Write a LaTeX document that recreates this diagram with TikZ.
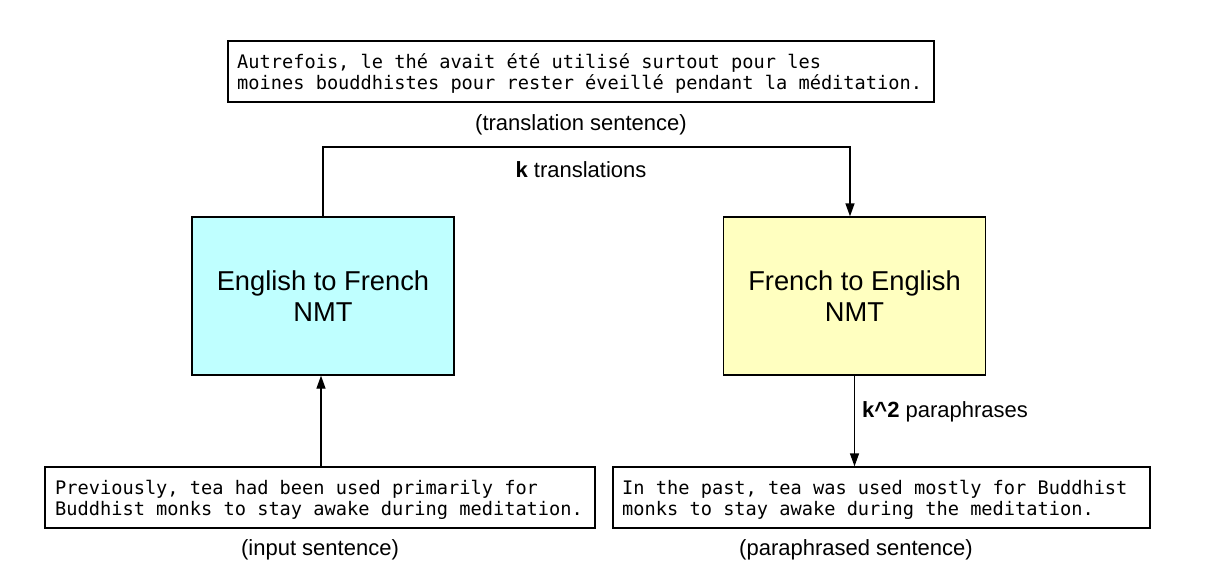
\documentclass[tikz,border=0pt]{standalone}
\usepackage{fontspec}
\setmainfont{Liberation Sans}
\newfontfamily\monofont{DejaVu Sans Mono}
\usetikzlibrary{arrows.meta}
\definecolor{cyanfill}{HTML}{BFFFFF}
\definecolor{yellowfill}{HTML}{FFFFC0}
\begin{document}
\begin{tikzpicture}[x=1pt,y=-1pt,
  sbox/.style={draw, line width=1.3pt, inner sep=0pt},
  mono/.style={font=\monofont\fontsize{18.65}{21}\selectfont, align=left, inner sep=0pt, anchor=west},
  nmt/.style={draw, line width=1.3pt, inner sep=0pt, minimum width=262pt, minimum height=158pt, align=center, font=\fontsize{27.3}{30.5}\selectfont},
  lbl/.style={font=\fontsize{22}{24}\selectfont, inner sep=0pt},
  arr/.style={-{Triangle[length=13pt,width=9pt]}, line width=1.3pt}]
\useasboundingbox (0,0) rectangle (1213,586);
\fill[white] (0,0) rectangle (1213,586);

% top box
\node[sbox, minimum width=706pt, minimum height=61pt] (top) at (581,71.5) {};
\node[mono] (toptext) at (237,73.5) {Autrefois, le thé avait été utilisé surtout pour les\\moines bouddhistes pour rester éveillé pendant la méditation.};
\node[lbl] (toplbl) at (581,125) {(translation sentence)};

% NMT boxes
\node[nmt, fill=cyanfill] (e2f) at (323,296) {English to French\\NMT};
\node[nmt, fill=yellowfill] (f2e) at (854.5,296) {French to English\\NMT};

% bottom boxes
\node[sbox, minimum width=550pt, minimum height=61pt] (inbox) at (320,497.5) {};
\node[mono] (intext) at (55,499.5) {Previously, tea had been used primarily for\\Buddhist monks to stay awake during meditation.};
\node[lbl] (inlbl) at (320,550) {(input sentence)};

\node[sbox, minimum width=537pt, minimum height=61pt] (outbox) at (881.5,497.5) {};
\node[mono] (outtext) at (622,499.5) {In the past, tea was used mostly for Buddhist\\monks to stay awake during the meditation.};
\node[lbl] (outlbl) at (856,550) {(paraphrased sentence)};

% connectors
\coordinate (c1) at (323,147);
\draw[arr] (e2f.north) -- (e2f.north |- c1) -| ([xshift=-4.5pt]f2e.north);
\node[lbl] (klbl) at (581,170) {\textbf{k} translations};

\draw[arr] ([xshift=-2pt]e2f.south |- inbox.north) -- ([xshift=-2pt]e2f.south);

\draw[arr] (f2e.south) -- (f2e.south |- outbox.north);
\node[lbl, anchor=west] (k2lbl) at (862,412) {\textbf{k\textasciicircum 2} paraphrases};
\end{tikzpicture}
\end{document}
